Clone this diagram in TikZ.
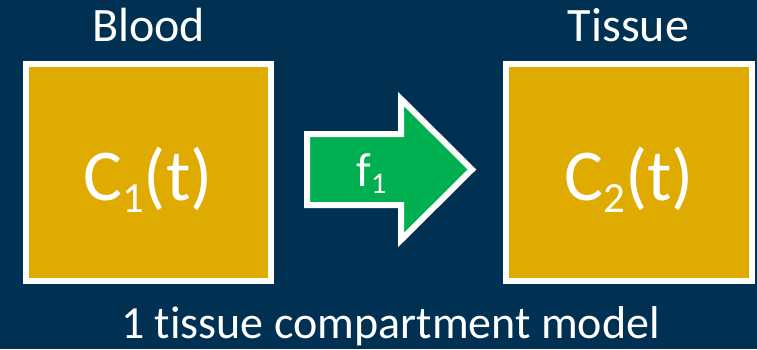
\documentclass[tikz,border=0pt]{standalone}
\usepackage{fontspec}
\setmainfont[Ligatures={NoCommon}]{Carlito}
\definecolor{bgnavy}{HTML}{003153}
\definecolor{boxgold}{HTML}{E0AB00}
\definecolor{arrgreen}{HTML}{00B050}
\begin{document}
\begin{tikzpicture}[x=1pt,y=-1pt,
  comp/.style={draw=white,fill=boxgold,line width=6pt,miter limit=10},
  lbl/.style={text=white,inner sep=0pt,anchor=base,font=\fontsize{48}{48}\selectfont},
  big/.style={text=white,inner sep=0pt,anchor=base,font=\fontsize{73}{73}\selectfont}]
\fill[bgnavy] (0,0) rectangle (757,349);
\useasboundingbox (0,0) rectangle (757,349);
% boxes
\draw[comp] (25.5,64) rectangle (271,281);
\draw[comp] (506,64) rectangle (752,281);
\coordinate (blood) at (148.5,172.5);
\coordinate (tissue) at (629,172.5);
% arrow
\draw[draw=white,fill=arrgreen,line width=6pt,miter limit=10]
  (307,134) -- (401,134) -- (401,99) -- (472,169.5) -- (401,240) -- (401,205) -- (307,205) -- cycle;
% texts
\node[lbl] (tb) at (148.5,41) {Blood};
\node[lbl] (tt) at (628.5,41) {Tissue};
\node[big] (c1) at (148,200) {C\raisebox{-12pt}{\fontsize{43}{43}\selectfont 1}(t)};
\node[big] (c2) at (629,200) {C\raisebox{-12pt}{\fontsize{43}{43}\selectfont 2}(t)};
\node[text=white,inner sep=0pt,anchor=base,font=\fontsize{48}{48}\selectfont] (f1) at (371.5,186) {f\raisebox{-7pt}{\fontsize{30}{30}\selectfont 1}};
\node[lbl,font=\fontsize{46}{46}\selectfont] (cap) at (390.5,338) {1 tissue compartment model};
\end{tikzpicture}
\end{document}
